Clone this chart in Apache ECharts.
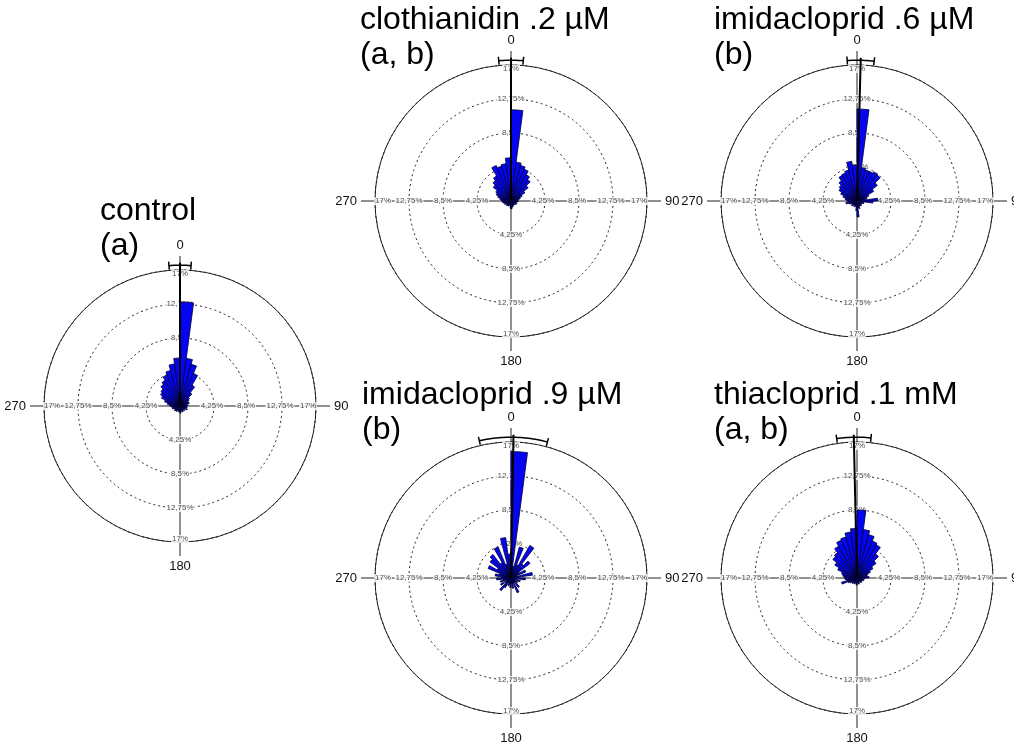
<!DOCTYPE html>
<html><head><meta charset="utf-8">
<script src="https://cdn.jsdelivr.net/npm/echarts@6/dist/echarts.min.js"></script>
<style>html,body{margin:0;padding:0;background:#fff}#c{width:1014px;height:743px}</style>
</head><body><div id="c"></div>
<script>
// ---- data ----
const binStarts = [0,7.5,15,22.5,30,37.5,45,52.5,60,67.5,75,82.5,90,97.5,105,112.5,120,127.5,135,142.5,150,157.5,165,172.5,180,187.5,195,202.5,210,217.5,225,232.5,240,247.5,255,262.5,270,277.5,285,292.5,300,307.5,315,322.5,330,337.5,345,352.5];
const plotNames = ['control','clothianidin .2 µM','imidacloprid .6 µM','imidacloprid .9 µM','thiacloprid .1 mM'];
const plotGroups = ['(a)','(a, b)','(b)','(b)','(a, b)'];
const controlValues = [13.0,6.0,5.4,4.4,3.0,2.1,1.5,1.3,1.1,1.2,0.9,1.0,0.8,0.9,0.7,1.0,0.6,0.8,0.7,0.6,0.8,0.5,0.7,0.9,0.8,0.6,0.7,0.5,0.8,0.6,0.9,0.7,0.8,1.0,0.9,1.1,1.3,1.6,2.0,2.5,2.8,3.0,3.4,3.7,4.2,4.6,5.3,6.0];
const clothianidin02Values = [11.4,4.9,4.6,4.3,3.8,3.4,2.7,2.0,1.5,1.2,1.0,0.8,0.9,0.7,0.6,0.8,0.5,0.7,0.6,0.5,0.7,0.6,0.8,1.0,0.9,0.6,0.5,0.7,0.6,0.8,0.6,0.7,0.9,0.8,1.0,1.1,1.2,1.4,1.7,2.0,2.2,2.8,3.2,3.6,4.8,4.5,4.7,5.4];
const imidacloprid06Values = [11.5,4.2,4.0,4.0,4.2,4.1,3.2,2.4,1.6,1.3,1.1,2.6,2.0,0.8,0.9,0.6,0.7,0.5,0.8,0.6,0.7,1.0,0.8,2.0,1.2,0.7,0.6,0.8,0.5,0.7,0.9,0.6,0.8,1.0,1.4,1.1,1.3,1.5,1.8,2.2,2.6,2.8,3.2,3.7,3.8,4.0,5.0,4.5];
const imidacloprid09Values = [15.8,1.5,4.0,1.8,4.7,2.2,3.0,1.2,2.0,0.8,2.7,1.0,1.8,0.6,1.2,0.5,1.0,0.7,1.5,0.6,2.0,0.7,1.3,0.6,1.2,0.8,1.0,0.5,1.4,2.0,0.8,1.5,0.6,1.4,1.0,1.8,1.2,2.0,1.5,3.1,2.0,3.3,3.7,2.2,4.2,1.8,5.1,3.0];
const thiacloprid01Values = [8.5,6.1,5.6,5.0,4.8,3.8,3.0,2.3,1.8,1.4,1.2,1.5,1.0,0.8,0.9,0.7,0.6,0.8,0.7,0.5,0.6,0.8,0.7,0.6,0.9,0.7,0.5,0.8,0.6,0.9,0.7,1.0,1.2,2.0,1.3,1.5,1.6,1.8,2.0,2.6,3.2,3.8,4.0,4.6,5.1,5.3,5.8,6.2];
const meanDirections = [0, 0, 1.5, 1, -1.3];
const ciHalfWidths = [4.5, 5, 5.5, 14, 7];
const ringValues = [4.25, 8.5, 12.75, 17];
const ringLabels = ['4,25%', '8,5%', '12,75%', '17%'];
const compassAngles = [0, 90, 180, 270];

// ---- layout ----
const allValues = [controlValues, clothianidin02Values, imidacloprid06Values, imidacloprid09Values, thiacloprid01Values];
const centers = [[180,406],[511,201],[857,201],[511,578],[857,578]];
const titlePos = [[100,194],[360,3],[714,3],[362,378],[714,378]];
const R_IN = 136, R_OUT = 150, RMAX = 17, RMAX_OUT = 17 * R_OUT / R_IN;
const norm = a => ((a % 360) + 360) % 360;

const polar = [], angleAxis = [], radiusAxis = [], series = [], title = [];
allValues.forEach((vals, i) => {
  const c = centers[i];
  polar.push({center: c, radius: R_IN});
  angleAxis.push({polarIndex: 2*i, type: 'category', data: binStarts, startAngle: 90, clockwise: true,
    boundaryGap: true,
    axisLine: {show: true, lineStyle: {color: '#222', width: 1}},
    axisTick: {show: false}, axisLabel: {show: false}, splitLine: {show: false}});
  radiusAxis.push({polarIndex: 2*i, type: 'value', min: 0, max: RMAX, interval: 4.25,
    axisLine: {show: false}, axisTick: {show: false}, axisLabel: {show: false},
    splitLine: {show: true, lineStyle: {color: '#222', width: 1, type: [2, 3]}}});
  polar.push({center: c, radius: R_OUT});
  angleAxis.push({polarIndex: 2*i+1, type: 'value', min: 0, max: 360, interval: 90, startAngle: 90, clockwise: true,
    axisLine: {show: false}, axisTick: {show: false},
    axisLabel: {show: true, margin: 4, color: '#111', fontSize: 13, fontFamily: 'Liberation Sans, Arial, sans-serif',
      formatter: v => v === 360 ? '' : String(v)},
    splitLine: {show: true, lineStyle: {color: '#222', width: 1}}});
  radiusAxis.push({polarIndex: 2*i+1, type: 'value', min: 0, max: RMAX_OUT,
    axisLine: {show: false}, axisTick: {show: false}, axisLabel: {show: false}, splitLine: {show: false}});

  series.push({type: 'bar', coordinateSystem: 'polar', polarIndex: 2*i, data: vals,
    barCategoryGap: '0%', z: 3, silent: true,
    itemStyle: {color: '#0505f2', borderColor: '#000033', borderWidth: 0.8}});

  const lab = [];
  compassAngles.forEach(a => {
    ringValues.forEach((r, k) => {
      let off = [0, 0];
      if (k === 3) off = a === 0 ? [0, 4] : a === 90 ? [-8, 0] : a === 180 ? [0, -3] : [8, 0];
      else if (a === 90) off = [-2, 0];
      lab.push({value: [r, a], name: ringLabels[k], label: {offset: off}});
    });
  });
  series.push({type: 'scatter', coordinateSystem: 'polar', polarIndex: 2*i+1, data: lab, z: 2, silent: true,
    symbol: 'circle', symbolSize: 1, itemStyle: {color: 'rgba(0,0,0,0)'},
    label: {show: true, position: 'inside', formatter: p => p.name, fontSize: 8, color: '#222',
      fontFamily: 'Liberation Sans, Arial, sans-serif', backgroundColor: '#fff', padding: [0, 1]}});

  const m = meanDirections[i], h = ciHalfWidths[i];
  series.push({type: 'line', coordinateSystem: 'polar', polarIndex: 2*i+1, symbol: 'none', z: 6, silent: true,
    data: [[0, norm(m)], [17.9, norm(m)]], lineStyle: {color: '#000', width: 2}});
  const arc = [[18.1, norm(m - h)], [17.1, norm(m - h)], [17.6, norm(m - h)]];
  for (let a = m - h + 1; a < m + h; a += 1) arc.push([17.6, norm(a)]);
  arc.push([17.6, norm(m + h)], [17.1, norm(m + h)], [18.1, norm(m + h)]);
  series.push({type: 'line', coordinateSystem: 'polar', polarIndex: 2*i+1, symbol: 'none', z: 6, silent: true,
    data: arc, lineStyle: {color: '#000', width: 1.5}});

  title.push({text: plotNames[i] + '\n' + plotGroups[i], left: titlePos[i][0], top: titlePos[i][1], padding: 0,
    textStyle: {fontSize: 32, fontWeight: 'normal', color: '#000', lineHeight: 35,
      fontFamily: 'Liberation Sans, Arial, sans-serif'}});
});

const chart = echarts.init(document.getElementById('c'), null, {renderer: 'canvas'});
chart.setOption({backgroundColor: '#fff', animation: false, title, polar, angleAxis, radiusAxis, series});
</script></body></html>
